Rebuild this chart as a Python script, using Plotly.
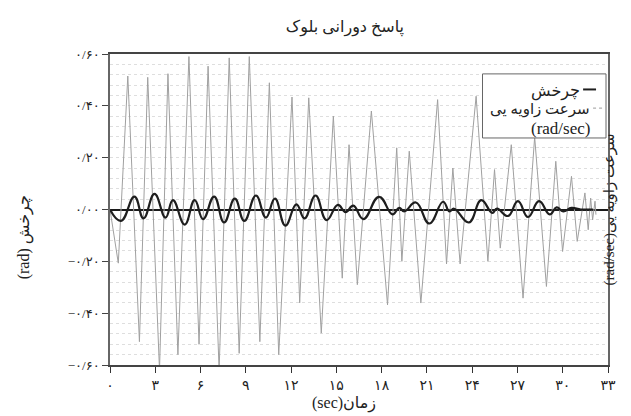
import plotly.graph_objects as go

# ---------------- data ----------------
time_vel = [0, 0.55, 1.18, 1.95, 2.5, 3.28, 3.84, 4.5, 5.23, 5.9, 6.5, 7.23, 7.9, 8.56,
            9.23, 9.93, 10.56, 11.18, 12.06, 12.57, 13.17, 14.0, 14.8, 15.39, 15.84,
            16.39, 17.32, 18.39, 19.0, 19.34, 19.83, 20.6, 21.71, 22.3, 22.72, 23.2,
            24.26, 25.04, 25.48, 25.86, 26.59, 27.37, 28.14, 28.92, 29.54, 29.99,
            30.58, 30.96, 31.47, 31.69, 31.85, 31.98, 32.14, 32.2]
velocity = [0, -0.207, 0.515, -0.51, 0.51, -0.62, 0.524, -0.56, 0.59, -0.52, 0.553,
            -0.62, 0.585, -0.555, 0.59, -0.51, 0.489, -0.56, 0.434, -0.36, 0.431,
            -0.477, 0.36, -0.265, 0.25, -0.29, 0.38, -0.368, 0.238, -0.2, 0.225,
            -0.361, 0.424, -0.21, 0.16, -0.21, 0.437, -0.2, 0.154, -0.149, 0.25,
            -0.342, 0.28, -0.297, 0.186, -0.162, 0.128, -0.123, 0.064, -0.078,
            0.044, -0.04, 0.032, -0.02]

time_rot = [0, 0.73, 1.62, 2.22, 2.95, 3.68, 4.17, 4.95, 5.61, 6.17, 6.9, 7.56, 8.27,
            8.9, 9.67, 10.33, 10.93, 11.62, 12.35, 12.89, 13.62, 14.35, 15.1, 15.61,
            16.12, 16.79, 17.83, 18.72, 19.16, 19.5, 20.27, 21.16, 22.07, 22.49,
            22.8, 23.78, 24.6, 25.33, 25.64, 26.37, 27.03, 27.7, 28.43, 29.14,
            29.59, 30.03, 30.58, 31.2, 32.0]
rotation = [0, -0.044, 0.05, -0.034, 0.06, -0.031, 0.036, -0.058, 0.036, -0.037,
            0.05, -0.05, 0.042, -0.044, 0.054, -0.031, 0.042, -0.062, 0.02,
            -0.034, 0.054, -0.041, 0.018, -0.01, 0.015, -0.037, 0.049, -0.019,
            0.006, -0.007, 0.027, -0.054, 0.03, -0.007, 0.003, -0.05, 0.036,
            -0.013, 0.003, -0.025, 0.032, -0.029, 0.032, -0.019, 0.008, -0.007,
            0.006, 0.0, 0.0]

x_tick_vals = [0, 3, 6, 9, 12, 15, 18, 21, 24, 27, 30, 33]
x_tick_text = ['۰', '۳', '۶', '۹', '۱۲', '۱۵', '۱۸', '۲۱', '۲۴', '۲۷', '۳۰', '۳۳']
y_tick_vals = [0.6, 0.4, 0.2, 0.0, -0.2, -0.4, -0.6]
y_tick_text = ['۰/۶۰', '۰/۴۰', '۰/۲۰', '۰/۰۰', '−۰/۲۰', '−۰/۴۰', '−۰/۶۰']

title_text = 'پاسخ دورانی بلوک'
x_title = '(sec)زمان'
y_title = '(rad) چرخش'
y2_title = '(rad/sec)سرعت زاویه یی'
legend_rot = 'چرخش'
legend_vel = 'سرعت زاویه یی'
legend_vel_unit = '(rad/sec)'

FONT = 'Liberation Serif, DejaVu Sans, serif'

fig = go.Figure()
fig.add_trace(go.Scatter(x=time_vel, y=velocity, mode='lines', name=legend_vel,
                         line=dict(color='#a0a0a0', width=1), showlegend=False))
fig.add_trace(go.Scatter(x=time_rot, y=rotation, mode='lines', name=legend_rot,
                         line=dict(color='#1e1e1e', width=2.2, shape='spline',
                                   smoothing=1.3),
                         showlegend=False))

fig.update_layout(
    width=631, height=416,
    margin=dict(l=102, r=31, t=46, b=59),
    paper_bgcolor='white', plot_bgcolor='white',
    font=dict(family=FONT, color='#222', size=13),
    title=dict(text=title_text, x=0.534, xref='container', xanchor='center',
               y=0.955, yref='container', yanchor='middle',
               font=dict(size=16, color='#222')),
    xaxis=dict(range=[0, 33], tickvals=x_tick_vals, ticktext=x_tick_text,
               ticks='outside', ticklen=6, tickcolor='#333', tickwidth=1.2,
               showline=True, linecolor='#444', linewidth=1.5, mirror=True,
               showgrid=False, zeroline=False, tickfont=dict(size=14)),
    yaxis=dict(range=[-0.6, 0.6], tickvals=y_tick_vals, ticktext=y_tick_text,
               ticks='outside', ticklen=6, tickcolor='#444', tickwidth=1.2,
               showline=True, linecolor='#666', linewidth=1.5, mirror=True,
               showgrid=True, gridcolor='#dedede', griddash='dot', gridwidth=1,
               minor=dict(tick0=0, dtick=0.04, showgrid=True, gridcolor='#dedede',
                          griddash='dot', gridwidth=1),
               zeroline=True, zerolinecolor='#1a1a1a', zerolinewidth=2,
               tickfont=dict(size=13)),
)

# axis titles
fig.add_annotation(text=x_title, xref='paper', yref='paper', x=0.469, y=-0.125,
                   showarrow=False, font=dict(size=16), xanchor='center', yanchor='middle')
fig.add_annotation(text=y_title, xref='paper', yref='paper', x=-0.171, y=0.41,
                   showarrow=False, font=dict(size=16), textangle=-90,
                   xanchor='center', yanchor='middle')
fig.add_annotation(text=y2_title, xref='paper', yref='paper', x=1.004, y=0.5,
                   showarrow=False, font=dict(size=15), textangle=-90,
                   xanchor='center', yanchor='middle')

# legend (right-to-left layout: sample line to the right of the label)
fig.add_shape(type='rect', xref='paper', yref='paper', x0=0.748, x1=0.996,
              y0=0.730, y1=0.936, line=dict(color='#666', width=1),
              fillcolor='white', layer='above')
fig.add_shape(type='line', xref='paper', yref='paper', x0=0.950, x1=0.976,
              y0=0.886, y1=0.886, line=dict(color='#1e1e1e', width=2), layer='above')
fig.add_shape(type='line', xref='paper', yref='paper', x0=0.970, x1=0.994,
              y0=0.826, y1=0.826, line=dict(color='#9c9c9c', width=1, dash='dot'),
              layer='above')
fig.add_annotation(text=legend_rot, xref='paper', yref='paper', x=0.948, y=0.881,
                   showarrow=False, font=dict(size=16), xanchor='right', yanchor='middle')
fig.add_annotation(text=legend_vel, xref='paper', yref='paper', x=0.968, y=0.820,
                   showarrow=False, font=dict(size=15), xanchor='right', yanchor='middle')
fig.add_annotation(text=legend_vel_unit, xref='paper', yref='paper', x=0.968, y=0.762,
                   showarrow=False, font=dict(size=17), xanchor='right', yanchor='middle')

fig.write_html('out.html')
